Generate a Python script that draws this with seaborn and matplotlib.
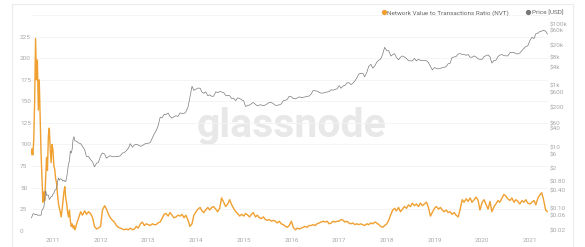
import matplotlib
matplotlib.use('Agg')
import matplotlib.pyplot as plt
import matplotlib.dates as mdates
from matplotlib.lines import Line2D
from matplotlib.patches import Rectangle
from matplotlib.ticker import FixedLocator, NullLocator, FixedFormatter
import numpy as np
import pandas as pd
import seaborn as sns

# ---------------- data ----------------
weekly_start = '2010-07-17'
semimonthly_start = '2011-07-01'
semimonthly_end = '2021-05-15'

# weekly, 2010-07-17 .. 2011-06-25
nvt_weekly = [88, 95, 88, 105, 150, 223, 175, 198, 140, 175, 130, 90, 60, 33, 45, 35,
              60, 85, 70, 110, 119, 95, 79, 100, 94, 75, 71, 60, 55, 42, 32, 26,
              22, 16, 24, 35, 45, 51, 38, 32, 22, 16, 24, 12, 5, 8, 3, 6, 1, 4]
price_weekly = [0.05, 0.055, 0.067, 0.07, 0.065, 0.065, 0.066, 0.062, 0.062, 0.062,
                0.062, 0.062, 0.09, 0.10, 0.11, 0.19, 0.39, 0.27, 0.28, 0.28,
                0.20, 0.22, 0.25, 0.25, 0.30, 0.32, 0.40, 0.42, 0.45, 0.75,
                1.0, 0.85, 0.95, 0.92, 0.88, 0.80, 0.85, 0.78, 0.76, 1.05,
                1.6, 3.0, 3.4, 7.5, 6.5, 8.5, 18, 22, 16, 16]

# semi-monthly (1st and 15th), 2011-07-01 .. 2021-05-15
nvt_semimonthly = (
    [8, 14, 22, 18, 23, 19, 22, 20, 15, 5, 2, 3] +                                   # 2011 H2
    [5, 24, 29, 25, 19, 15, 12, 10, 6, 4, 3, 2, 1, 2, 1, 3, 1, 2, 5, 3, 8, 10, 6, 8] +  # 2012
    [7, 6, 8, 7, 7, 9, 10, 14, 19, 20, 17, 21, 18, 15, 16, 18, 17, 19, 15, 18, 12, 5, 8, 18] +  # 2013
    [22, 25, 27, 23, 21, 24, 27, 24, 27, 28, 25, 22, 26, 38, 33, 28, 31, 36, 30, 26, 22, 20, 17, 19] +  # 2014
    [17, 20, 18, 16, 19, 21, 16, 18, 15, 14, 16, 13, 12, 13, 11, 12, 11, 9, 11, 8, 7, 5, 4, 6] +  # 2015
    [11, 4, 1, 3, 2, 3, 4, 5, 4, 6, 6, 7, 6, 8, 9, 10, 11, 10, 11, 8, 9, 11, 10, 11] +  # 2016
    [11, 13, 12, 10, 11, 9, 8, 9, 7, 8, 7, 8, 7, 6, 8, 7, 9, 8, 10, 9, 7, 5, 4, 6] +  # 2017
    [8, 12, 19, 24, 26, 23, 27, 22, 25, 28, 26, 30, 28, 32, 29, 31, 28, 32, 29, 31, 33, 27, 17, 21] +  # 2018
    [26, 28, 25, 27, 24, 22, 24, 21, 22, 19, 21, 18, 16, 24, 36, 33, 37, 34, 38, 33, 36, 39, 35, 24] +  # 2019
    [33, 36, 30, 25, 34, 22, 28, 31, 35, 33, 38, 42, 40, 37, 35, 38, 33, 36, 34, 31, 35, 33, 36, 32] +  # 2020
    [31, 33, 35, 30, 37, 41, 44, 36, 24, 22]                                          # 2021
)
price_semimonthly = (
    [15.5, 13.8, 13, 10.8, 8.2, 5.0, 5.0, 4.0, 3.3, 2.3, 3.0, 3.2] +
    [5.2, 6.5, 6.0, 4.4, 4.9, 5.3, 4.9, 4.9, 5.0, 5.0, 5.3, 6.4, 6.7, 7.6, 9.3, 13, 10, 11.8, 12.4, 11.8, 10.7, 11.2, 12.5, 13.3] +
    [13.4, 14.2, 20.4, 27, 34, 47, 93, 90, 116, 115, 128, 100, 88, 98, 105, 99, 130, 125, 125, 140, 205, 420, 950, 700] +
    [770, 830, 820, 620, 560, 630, 470, 500, 450, 450, 630, 590, 640, 620, 590, 480, 480, 470, 380, 390, 325, 400, 380, 350] +
    [315, 210, 225, 235, 260, 285, 245, 220, 235, 237, 222, 235, 258, 285, 280, 260, 228, 230, 237, 254, 325, 330, 360, 450] +
    [434, 380, 372, 400, 430, 415, 417, 430, 450, 455, 536, 690, 673, 665, 606, 570, 572, 608, 615, 640, 730, 710, 755, 780] +
    [998, 820, 985, 1010, 1220, 1250, 1080, 1180, 1420, 1740, 2410, 2450, 2500, 1930, 2720, 4200, 4900, 3700, 4400, 5700, 6700, 7300, 10800, 17500] +
    [13400, 13600, 9100, 10100, 10900, 8200, 6900, 8300, 9200, 8500, 7500, 6500, 6350, 6350, 7600, 6300, 7200, 6500, 6600, 6600, 6370, 5600, 4200, 3250] +
    [3850, 3600, 3480, 3620, 3830, 3920, 4150, 5100, 5350, 8200, 8550, 8800, 10600, 10900, 10400, 10300, 9600, 10300, 8300, 8350, 9200, 8500, 7400, 7100] +
    [7200, 8800, 9400, 9900, 8550, 5400, 6600, 6640, 8800, 9800, 10200, 9400, 9230, 9200, 11800, 11900, 11900, 10800, 10600, 11500, 13800, 16000, 18800, 19400] +
    [29400, 36800, 33500, 48000, 49600, 56000, 58900, 63100, 57800, 46800]
)

nvt_ticks = [0, 25, 50, 75, 100, 125, 150, 175, 200, 225, 250]
nvt_tick_labels = ['0', '25', '50', '75', '100', '125', '150', '175', '200', '225', '']
price_ticks = [100000, 60000, 20000, 8000, 4000, 1000, 600, 200, 60, 40, 10, 6, 2,
               0.8, 0.4, 0.1, 0.06, 0.02]
price_tick_labels = [r'\$100k', r'\$60k', r'\$20k', r'\$8k', r'\$4k', r'\$1k', r'\$600',
                     r'\$200', r'\$60', r'\$40', r'\$10', r'\$6', r'\$2', r'\$0.80',
                     r'\$0.40', r'\$0.10', r'\$0.06', r'\$0.02']
legend_labels = ['Network Value to Transactions Ratio (NVT)', 'Price [USD]']
watermark = 'glassnode'

# ---------------- build table ----------------
dates = pd.date_range(weekly_start, periods=len(nvt_weekly), freq='7D').append(
    pd.date_range(semimonthly_start, semimonthly_end, freq='SMS'))
df = pd.DataFrame({'date': dates,
                   'nvt': nvt_weekly + nvt_semimonthly,
                   'price': price_weekly + price_semimonthly})

# ---------------- style ----------------
sns.set_theme(style='white')
plt.rcParams['font.family'] = ['Roboto', 'DejaVu Sans']

ORANGE = '#f0a030'
GRAY = '#7a7a7a'
TICK_C = '#a8a8a8'
W, H = 585, 247

fig = plt.figure(figsize=(W / 100, H / 100), dpi=100)
fig.patch.set_facecolor('white')
ax = fig.add_axes([31 / W, 1 - 230.7 / H, 517 / W, 215.5 / H])
ax.patch.set_alpha(0)

# outer frame
fig.patches.append(Rectangle((12 / W, -0.05), (573 - 12) / W, 1.05 - 4 / H,
                             transform=fig.transFigure, fill=False,
                             edgecolor='#ececec', lw=0.8, zorder=0))

# watermark
ax.text(291 / W, 1 - 137 / H, watermark, transform=fig.transFigure,
        ha='center', va='baseline', fontsize=29.5, fontweight='bold',
        color='#e8e8e8', zorder=0.1)

sns.lineplot(data=df, x='date', y='nvt', ax=ax, color=ORANGE, linewidth=1.0, zorder=3)
ax2 = ax.twinx()
sns.lineplot(data=df, x='date', y='price', ax=ax2, color=GRAY, linewidth=0.5, zorder=2)

ax.set_xlim(pd.Timestamp('2010-07-17'), pd.Timestamp('2021-05-19'))
ax.set_ylim(0, 250)
ax2.set_yscale('log')
ax2.set_ylim(0.01945, 193000)

ax.set_xlabel('')
ax.set_ylabel('')
ax2.set_ylabel('')

ax.set_yticks(nvt_ticks)
ax.set_yticklabels(nvt_tick_labels)
for lbl in ax.get_yticklabels():
    lbl.set_ha('left')
ax.tick_params(axis='y', length=0, pad=7.9, labelsize=4.6, labelcolor=TICK_C)

ax.xaxis.set_major_locator(mdates.YearLocator())
ax.xaxis.set_major_formatter(mdates.DateFormatter('%Y'))
ax.tick_params(axis='x', length=0, pad=5.5, labelsize=4.6, labelcolor=TICK_C)

ax2.yaxis.set_major_locator(FixedLocator(price_ticks))
ax2.yaxis.set_major_formatter(FixedFormatter(price_tick_labels))
ax2.yaxis.set_minor_locator(NullLocator())
ax2.tick_params(axis='y', length=0, pad=1.5, labelsize=4.6, labelcolor=TICK_C)

ax.set_axisbelow(True)
ax.grid(axis='y', color='#f3f3f3', lw=0.6)
ax.grid(axis='x', visible=False)
ax2.grid(False)
for a in (ax, ax2):
    for s in a.spines.values():
        s.set_visible(False)

handles = [Line2D([0], [0], marker='o', ls='', color=ORANGE, markersize=2.8),
           Line2D([0], [0], marker='o', ls='', color='#777777', markersize=2.8)]
fig.legend(handles=handles, labels=legend_labels, loc='center right',
           bbox_to_anchor=(563 / W, 1 - 13 / H), ncol=2, frameon=False,
           fontsize=4.6, handlelength=0.6, handletextpad=0.3, columnspacing=2.6,
           labelcolor='#666666', borderaxespad=0, borderpad=0)

fig.savefig('out.png', dpi=100)
